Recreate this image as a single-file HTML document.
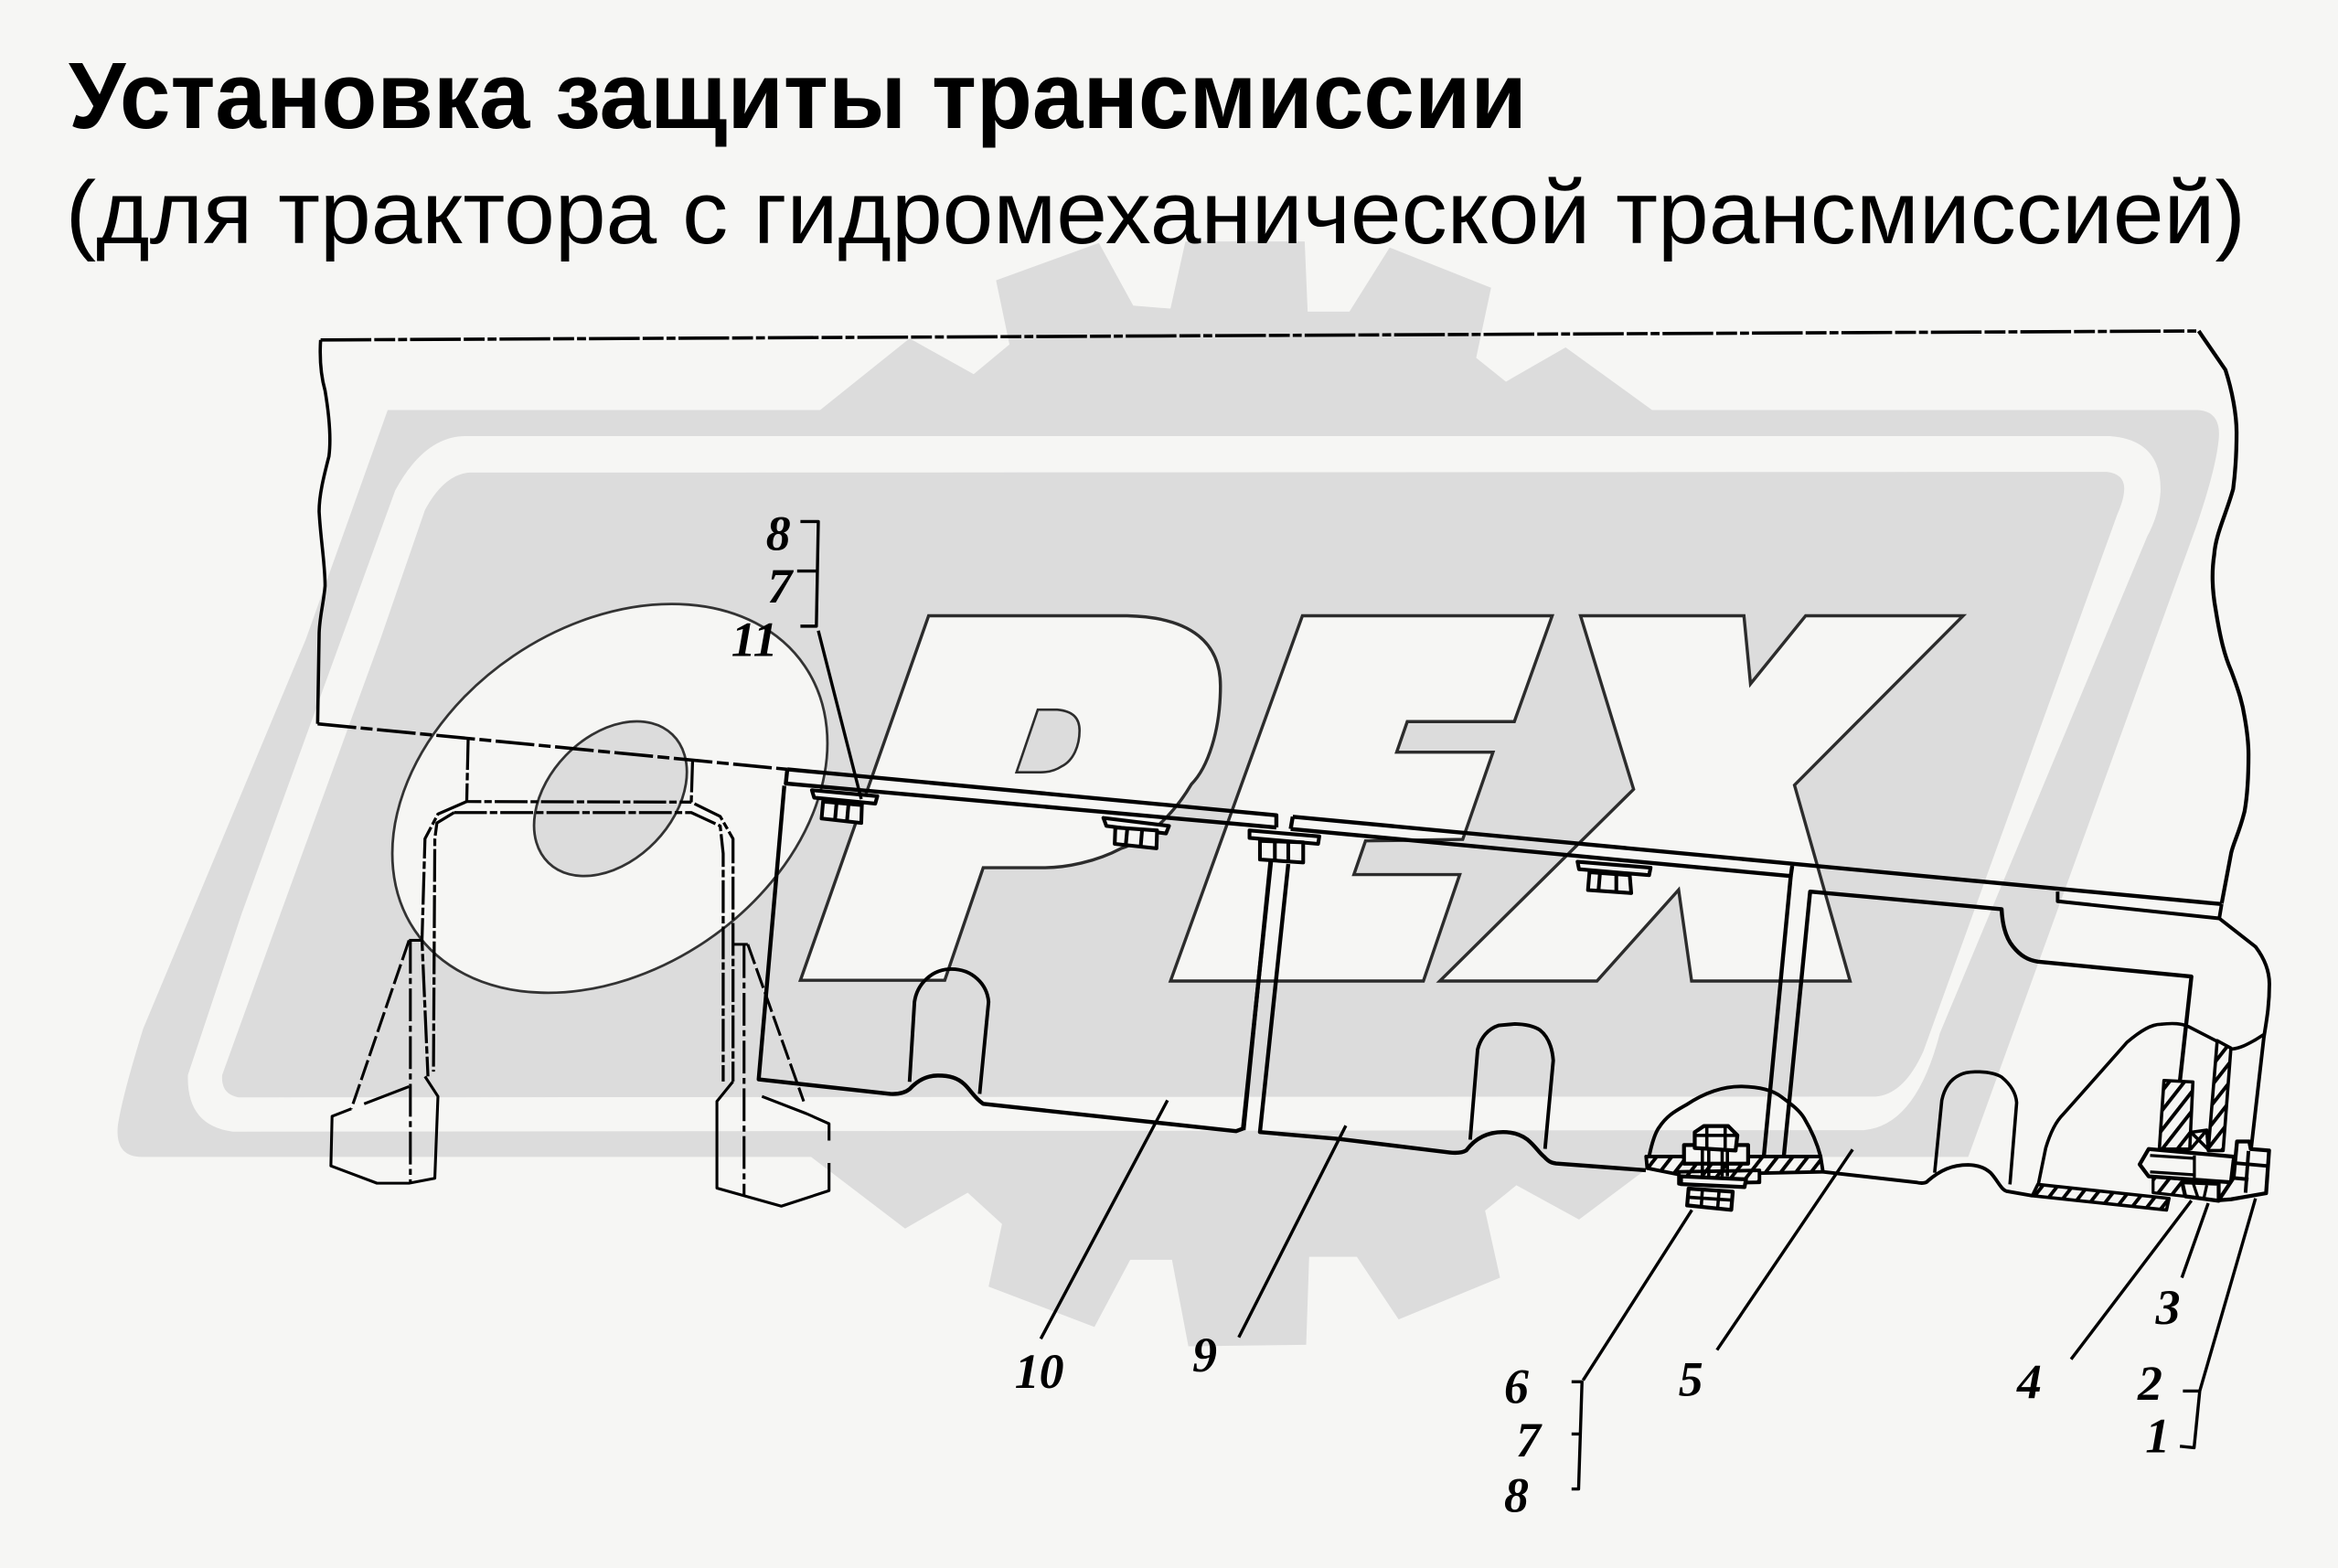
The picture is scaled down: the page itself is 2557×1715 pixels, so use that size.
<!DOCTYPE html>
<html lang="ru"><head><meta charset="utf-8"><title>Установка защиты трансмиссии</title>
<style>html,body{margin:0;padding:0;background:#f6f6f4}svg{display:block}</style></head>
<body>
<svg xmlns="http://www.w3.org/2000/svg" width="2557" height="1715" viewBox="0 0 1568 1051.7">
<defs>
<pattern id="h" width="8" height="8" patternUnits="userSpaceOnUse" patternTransform="rotate(38)">
<rect width="8" height="8" fill="#f6f6f4"/><rect width="2.4" height="8" fill="#000"/>
</pattern>
</defs>
<rect width="1568" height="1051.7" fill="#f6f6f4"/>

<!-- logo gear -->
<polygon fill="#dcdcdc" points="550,275 610,227 653,251 677,231 668,188 737,163 760,205 785,207 795,162 875,162 877,209 905,209 932,166 1000,193 990,240 1010,256 1050,233 1108,275 1108,400 1103,785 1059,818 1017,795 996,812 1006,857 938,885 910,843 878,843 876,902 797,903 786,845 758,845 734,890 663,863 672,821 649,800 607,824 544,776"/>
<!-- logo plate -->
<path fill="#dcdcdc" d="M260,275 L1474,275 Q1490,276 1488,295 Q1486,315 1473,353 L1320,776 L95,776 Q77,776 79,755 Q82,735 96,690 L205,429 Z"/>
<path fill="#f6f6f4" d="M313,292.5 L1415,292.5 Q1450,295 1449,330 Q1448,345 1440,360 L1301,693 Q1285,755 1250,758 L156,759 Q125,755 126,721 L162,613 L265,329 Q285,292 313,292.5 Z"/>
<path fill="#dcdcdc" d="M315,317 L1413,316.5 Q1426,318 1424.5,330 Q1424,336 1420,345 L1290,705 Q1277,734 1258,735.5 L160,736 Q148,734 149,721 L188,613 L255,429 L285,342 Q298,318 315,317 Z"/>

<!-- PEX letters -->
<g fill="#f6f6f4" stroke="#2c2c2c" stroke-width="2.1" stroke-linejoin="miter">
<path d="M622.8,413 L756,413 C800,414 818.5,432 818.5,460 C818.5,490 810,515 799,526 C785,550 765,565 752,569 C735,578 715,582 700,582 L659.4,582 L633.6,657.5 L536.8,657.5 Z"/>
<path fill="#dcdcdc" d="M696,476 L709,476 C720,477 724,482 724,490 C724,500 720,510 712,514 C706,518 700,518 698,518 L681.7,518 Z" stroke-width="1.6"/>
<polygon points="873.5,413 1041,413 1015.6,484 943.8,484 936.7,504.5 1001.3,504.5 981,563 915.8,564 908,586.6 979,586.6 954.6,658 785,658"/>
<polygon points="1060,413 1169.6,413 1174,458.7 1211,413 1316.6,413 1203.5,526.6 1240.8,658 1134.5,658 1125.8,596.8 1071,658 965.6,658 1095.6,529.4"/>
</g>
<ellipse cx="409" cy="535.5" rx="158" ry="115.4" transform="rotate(-34.2 409 535.5)" fill="#f6f6f4" stroke="#333" stroke-width="1.7"/>
<ellipse cx="409.4" cy="535.7" rx="59.8" ry="41.7" transform="rotate(-46 409.4 535.7)" fill="#dcdcdc" stroke="#333" stroke-width="1.7"/>

<!-- titles -->
<text x="46" y="86" font-family="'Liberation Sans',sans-serif" font-weight="700" font-size="63" textLength="978" lengthAdjust="spacingAndGlyphs" fill="#000">Установка защиты трансмиссии</text>
<text x="44" y="163" font-family="'Liberation Sans',sans-serif" font-size="60" textLength="1462" lengthAdjust="spacingAndGlyphs" fill="#000">(для трактора с гидромеханической трансмиссией)</text>

<!-- drawing -->
<g fill="none" stroke="#000" stroke-linejoin="round" stroke-linecap="butt">
<!-- body -->
<path stroke-width="2.2" stroke-dasharray="34 2 14 2 6 2" d="M215,228 L1474.6,222"/>
<path stroke-width="2.6" d="M1474.6,222 L1492.5,248 C1497,262 1500,278 1500,290 C1500,305 1499,318 1497.7,328 C1493,345 1486,358 1485,372 C1483,385 1484,398 1486,409 C1489,428 1492,440 1496.4,450 C1502,465 1504,472 1505.4,481 C1507,490 1508,498 1508,506 C1508,522 1507,535 1505.4,544 C1502,558 1498,565 1496.4,572 L1490,606"/>
<path stroke-width="2.2" d="M215,228 C214,245 216,255 218,262 C221,280 222,295 220.6,306 C217,320 214,332 214,343 C215,362 218,378 218,393 C217,405 214,415 214,426 L213,485.5"/>
<path stroke-width="2.2" stroke-dasharray="26 3 8 3" d="M213,485.5 L528,516"/>
<!-- main top lines -->
<path stroke-width="2.7" d="M528,516 L856,546.8 L856,555 M867,547.8 L1490,606.4"/>
<path stroke-width="2.7" d="M528,516 L527,525.5 L856,555 M865.6,556 L867,547.8 M865.6,556 L1201,587.6 L1202,580.7"/>
<path stroke-width="2.4" d="M1380,598 L1380,604.5 L1488.4,616 L1490,606.4"/>

<!-- panel 10 -->
<path stroke-width="2.7" d="M526,527 L508.8,724 L597,733.7 C603,734 607,733 610,730.5 C616,724 622,721.4 629,721.4 C637,721.4 642,723 646.5,727 C651,731 653,736 659.4,740.4 L829,758.7 L833.6,757 L853,572.5"/>
<path stroke-width="2.4" d="M610,725.6 L613.3,672 C615,660 625,650 638,650 C652,650 662,660 663,672 L657,733.7"/>
<!-- panel 9 -->
<path stroke-width="2.7" d="M864,579.5 L845,759.3 L898.5,764 L972.4,773 C977,773.5 981,773 983.4,771.6 C989,764 997,759.3 1008,759.3 C1015,759.3 1020,761 1024.5,764.4 C1030,769 1032,773 1035.4,775.7 C1038,778.5 1040,780 1043.6,780.4 L1103.8,784.9"/>
<path stroke-width="2.4" d="M986,764.4 L991,704 C993,696 998,690 1005,687.8 L1016,686.8 C1024,687 1029,688.5 1032.7,690.8 C1038,695 1041,702 1041.7,711.3 L1036.2,770.6"/>
<path stroke-width="2.7" d="M1201,587.6 L1183,775"/>
<path stroke-width="2.4" d="M1106,775.7 C1108,766 1110,760 1112.6,756.3 C1118,748 1124,745 1131,741 C1143,733 1155,728.7 1167.5,728.7 C1180,729 1189,731 1195,735.9 C1202,741 1207,745 1210,750 C1216,760 1219,768 1221,775.7"/>
<!-- panel 5 -->
<path stroke-width="2.7" d="M1196.4,775 L1214,598 L1342.4,609.8 C1343,622 1346,630 1350,634.8 C1355,641 1360,644 1366.7,645 L1469.7,655 L1462,725"/>
<path stroke-width="2.4" d="M1222.6,786 L1285,793 C1289,794 1292,793.5 1293,792 C1301,785 1309,781.3 1320,781.3 C1328,781.5 1332,784 1335,786.6 C1340,792 1342,798 1346,799 L1363,802"/>
<path stroke-width="2.2" d="M1297.5,786.6 L1302.3,738 C1304,730 1308,724 1314.3,721 C1320,718 1335,718 1342.4,722.4 C1348,727 1352,733 1352.5,739.6 L1348,794.4"/>
<path stroke-width="2.4" d="M1488.4,616 L1512.7,635 C1518,642 1522,650 1522,660 C1522,675 1520,685 1518.3,695.8 L1509.7,771"/>
<path stroke-width="2.2" d="M1366.7,796 L1372,770 C1375,760 1379,752 1383.6,747.5 L1426.6,699 C1436,691 1443,687 1449,687 C1458,686 1463,686.5 1467.8,688.6 L1497,703.6 C1503,703 1508,700 1512.7,697.4 L1518,694"/>
<!-- right hatch -->
<polygon stroke-width="2.2" fill="url(#h)" points="1366.7,794.4 1454.7,803.8 1453,811.6 1363,802"/>
<polygon stroke-width="2.2" fill="url(#h)" points="1451.3,724.7 1470.7,725.7 1468.6,770.7 1448.2,770.7"/>
<polygon stroke-width="2.2" fill="url(#h)" points="1487,698 1496.2,703 1491,771.7 1481,771.7"/>
<path stroke-width="2.2" d="M1469.7,759.4 L1480,758 L1481,771 M1470,760 L1481,771 M1480,758 L1469,771"/>
<polygon stroke-width="2" fill="url(#h)" points="1444,789 1463.5,791 1465.6,802.4 1444,800"/>
<path stroke-width="2.6" fill="#f6f6f4" d="M1441,770.7 L1498.3,775.8 L1496.2,793 L1441,789 L1435,781 Z"/>
<path stroke-width="2" d="M1442,775 L1472,777 M1442,786 L1472,788 M1471.7,775 L1471.7,790"/>
<path stroke-width="2.6" fill="#f6f6f4" d="M1463.5,793 L1488,794 L1488,805.4 L1465.6,802.4 Z"/>
<path stroke-width="2" d="M1471,794 L1474,803 M1480,795 L1478,804"/>
<path stroke-width="2.6" fill="#f6f6f4" d="M1500.3,765.6 L1508.5,765.6 L1509.5,770.7 L1521.8,771.7 L1519.8,800.3 L1496.2,804.4 L1488,805 L1498,790 Z"/>
<path stroke-width="2.4" d="M1508,772 L1506,800 M1498,780 L1520,782 M1497,790 L1508,791"/>

<!-- centre bolt -->
<polygon stroke-width="2.4" fill="url(#h)" points="1104,775.7 1221,775.7 1222.6,786 1127,788 1104.7,783.5"/>
<polygon stroke-width="2.4" fill="url(#h)" points="1126,786 1180,785 1180,793 1126,794"/>
<rect x="1129.4" y="768" width="43" height="12.5" stroke-width="2.6" fill="#f6f6f4"/>
<path stroke-width="2.6" fill="#f6f6f4" d="M1136.6,759.4 L1142.7,755.3 L1159,755.3 L1165.2,761.5 L1164,771.7 L1136.6,770 Z"/>
<path stroke-width="2.2" d="M1144.7,756 L1144.7,770 M1157,756 L1157,770 M1137,761.5 L1165,761.5"/>
<path stroke-width="2.2" d="M1141.7,771 L1141.7,789 M1146,771 L1146,789 M1155,771 L1155,789 M1158.5,771 L1158.5,789"/>
<path stroke-width="2.6" fill="#f6f6f4" d="M1127.4,789 L1171,791 L1170,796.2 L1127.4,794.2 Z"/>
<path stroke-width="2.6" fill="#f6f6f4" d="M1132.5,797.2 L1162.1,799.3 L1161.1,811.5 L1131.5,808.5 Z"/>
<path stroke-width="2.2" d="M1141.7,798 L1141,809 M1152.9,799 L1152,810 M1132,803 L1162,805"/>

<!-- top clamps -->
<g stroke-width="2.5">
<polygon fill="#f6f6f4" points="544.5,530 588.4,534 587,539 546,535"/>
<polygon fill="#f6f6f4" points="552,537.6 578,540 577.6,552 551,549"/>
<path d="M561,539 L560,550 M569,540 L568,551"/>
<polygon fill="#f6f6f4" points="740,548.6 784,554 782,559 742,554"/>
<polygon fill="#f6f6f4" points="748,555 776,557 775.6,569 747.6,566"/>
<path d="M756,556 L755,567 M766,556 L765,568"/>
<polygon fill="#f6f6f4" points="838,557 884.8,561 884,566 838,562"/>
<polygon fill="#f6f6f4" points="845,564 874,565 874,578.5 845,576.5"/>
<path d="M855,565 L855,577 M864,565 L864,578"/>
<polygon fill="#f6f6f4" points="1058,578 1107,582 1106,587 1059,583"/>
<polygon fill="#f6f6f4" points="1066,585 1093,587 1094,599 1065,597"/>
<path d="M1073,586 L1072,598 M1084,587 L1084,599"/>
</g>
<path stroke-width="2.7" d="M852,578 L834,758"/>

<!-- legs -->
<g stroke-width="2" stroke-dasharray="22 2 5 2">
<path d="M314,494.4 L313,537.6 L463.6,538 M464.5,509.4 L463.6,538 L483,547.6 L491.6,562.6 L491.6,725.4"/>
<path d="M313,537.6 L293.7,546 L285,562.6 L283,630.7 L287,722"/>
<path d="M304.5,545 L463.6,545 L483,554 L485,572.5 L485,725.4"/>
<path d="M304.5,545 L293,552 L291.6,562.6 L290.7,718.8"/>
</g>
<g stroke-width="1.9">
<path stroke-dasharray="14 3" d="M274.3,630.7 L235.6,743.7"/>
<path d="M274.3,630.7 L283.8,630.7"/>
<path d="M235.6,743.7 L222.7,748.7 L221.9,782 L252.8,793.6 L274.3,793.6 L291.6,790.3 L293.7,735.4 L285,722"/>
<path d="M274.3,728.8 L244.2,740.4"/>
<path stroke-dasharray="22 3 4 3" d="M275.2,631 L275.2,794"/>
<path d="M491.6,633.4 L501.5,633.4"/>
<path stroke-dasharray="14 3" d="M501.5,633.4 L539,738.7"/>
<path d="M511,735.4 L541,747 M541,747 L556,753.7 L556,765 M556,780 L556,798.6 L524,809 L480.8,796.9 L480.8,738.7 L491.6,725.4"/>
<path stroke-dasharray="22 3 4 3" d="M499,634 L499,802"/>
</g>

<!-- leaders -->
<g stroke-width="2.1">
<path d="M783,738 L698,898"/>
<path d="M902.6,755 L830.8,897"/>
<path d="M1242.5,771 L1151.5,905.5"/>
<path d="M1134.7,811.6 L1061.7,925.8 M1054,926.8 L1061,926.8 L1058.7,998.7 L1054,998.7 M1054,961.8 L1060,961.8"/>
<path d="M1469.7,805.3 L1389,911.7"/>
<path d="M1481,807 L1463.3,857"/>
<path d="M1512.7,803.8 L1475.3,933 M1464,933 L1475.3,933 L1471.5,971 L1462,970"/>
<path d="M536.8,349.8 L548.8,349.8 L547.5,420 L536.8,420 M534.6,383 L548,383 M548.8,423 L577.6,536"/>
</g>
</g>

<!-- labels -->
<g font-family="'Liberation Serif',serif" font-weight="700" font-style="italic" font-size="33" fill="#000" text-anchor="middle">
<text x="522" y="369">8</text>
<text x="523" y="404">7</text>
<text x="506" y="440">11</text>
<text x="697" y="931">10</text>
<text x="808" y="920">9</text>
<text x="1017" y="941">6</text>
<text x="1025" y="977">7</text>
<text x="1017" y="1014">8</text>
<text x="1134" y="936">5</text>
<text x="1361" y="938">4</text>
<text x="1454" y="888">3</text>
<text x="1442" y="939">2</text>
<text x="1447" y="974">1</text>
</g>
</svg>
</body></html>
